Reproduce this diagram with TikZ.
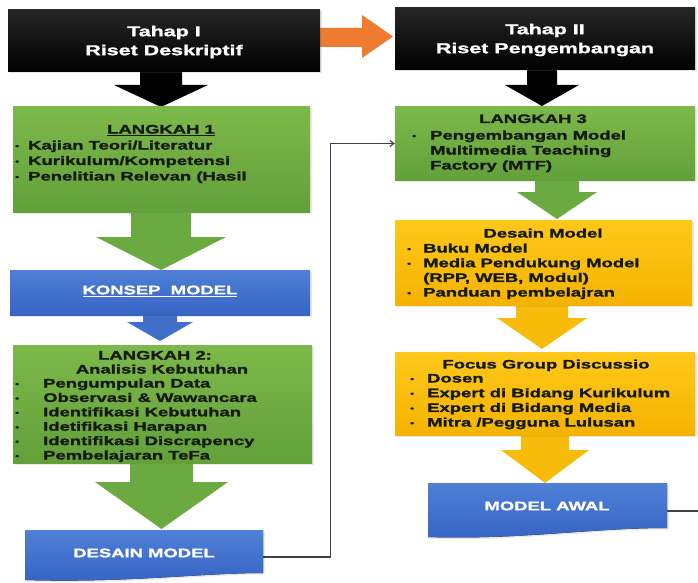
\documentclass[tikz,border=0pt]{standalone}
\usepackage{fontspec}
\setmainfont{Liberation Sans}
\newfontfamily\hv[FakeStretch=1.5,FakeBold=1.6]{Liberation Sans}
\usetikzlibrary{arrows.meta,shadows}
\definecolor{gtop}{HTML}{7DB84A}
\definecolor{gbot}{HTML}{63A03A}
\definecolor{ytop}{HTML}{FFC81A}
\definecolor{ybot}{HTML}{F5B300}
\definecolor{btop}{HTML}{4F80D6}
\definecolor{bbot}{HTML}{3564C4}
\definecolor{orng}{HTML}{EE7B30}
\definecolor{garr}{HTML}{6BAA40}
\definecolor{yarr}{HTML}{F7BC0A}
\definecolor{barr}{HTML}{3F6FCB}
\definecolor{linec}{HTML}{404040}
\definecolor{txt}{HTML}{141A0E}
\newcommand\bul{\raisebox{0.15ex}{\scalebox{0.6}{\textbullet}}}
\newcommand\lst[2]{{\fontsize{12.3}{#1}\selectfont\begin{tabular}[t]{@{}l@{}}#2\end{tabular}}}
\newcommand\dnarrow[7]{\fill[#7] ({#1-#3},#2) -- ({#1+#3},#2) -- ({#1+#3},#5) -- ({#1+#4},#5) -- (#1,#6) -- ({#1-#4},#5) -- ({#1-#3},#5) -- cycle;}
\tikzset{
  shd/.style={drop shadow={opacity=0.18,shadow xshift=1.5pt,shadow yshift=-1.5pt}},
  boxbase/.style={rectangle,inner sep=0pt,shd},
  blackbox/.style={boxbase,top color=black!85,bottom color=black},
  greenbox/.style={boxbase,top color=gtop,bottom color=gbot},
  yellowbox/.style={boxbase,top color=ytop,bottom color=ybot},
  bluebox/.style={boxbase,top color=btop,bottom color=bbot},
  ttl/.style={font=\hv\bfseries\fontsize{14.3}{19}\selectfont,text=white,align=center,inner sep=0pt},
  hd/.style={font=\hv\bfseries\fontsize{12.3}{15}\selectfont,text=txt,inner sep=0pt,anchor=base},
  wt/.style={font=\hv\bfseries\fontsize{12.3}{15}\selectfont,text=white,inner sep=0pt},
  lt/.style={font=\hv\bfseries,text=txt,inner sep=0pt,anchor=base west},
  conn/.style={draw=linec,line width=1.1pt},
}
\begin{document}
\begin{tikzpicture}[x=1pt,y=-1pt]
\useasboundingbox (0,0) rectangle (698,583);
\fill[white] (0,0) rectangle (698,583);

% block arrows
\dnarrow{161}{70}{21}{47}{85}{107}{black}
\dnarrow{542}{68}{15}{37}{85}{106}{black}
\dnarrow{161}{210}{30}{65}{237}{270}{garr}
\dnarrow{160}{313}{17}{33}{322}{341}{barr}
\dnarrow{161.5}{461}{31.5}{66.5}{482}{529}{garr}
\dnarrow{557}{178}{22}{40}{192}{219}{garr}
\dnarrow{542}{303}{26}{45}{318}{349}{yarr}
\dnarrow{545}{433}{24}{44}{450}{483}{yarr}
\fill[orng] (310,28) -- (362,28) -- (362,15) -- (393,36.5) -- (362,58) -- (362,47) -- (310,47) -- cycle;

% boxes
\node[blackbox,minimum width=312pt,minimum height=62pt] (t1) at (164,41) {};
\node[blackbox,minimum width=300pt,minimum height=62pt] (t2) at (545,39) {};
\node[greenbox,minimum width=297pt,minimum height=105pt] (l1) at (161.5,159.5) {};
\node[bluebox,minimum width=300pt,minimum height=45pt] (km) at (160,292.5) {};
\node[greenbox,minimum width=299pt,minimum height=118pt] (l2) at (162.5,404) {};
\node[greenbox,minimum width=300pt,minimum height=73pt] (l3) at (545,143.5) {};
\node[yellowbox,minimum width=297pt,minimum height=85pt] (ds) at (543.5,262.5) {};
\node[yellowbox,minimum width=300pt,minimum height=83pt] (fg) at (545,393.5) {};
\fill[top color=btop,bottom color=bbot,shd] (25,530) -- (263,530) -- (263,573) .. controls (200,573) and (130,583) .. (25,580) -- cycle;
\fill[top color=btop,bottom color=bbot,shd] (428,483) -- (667,483) -- (667,528) .. controls (590,528) and (520,540) .. (428,537) -- cycle;
\node[inner sep=0pt,minimum width=238pt,minimum height=46pt] (dm) at (144,553) {};
\node[inner sep=0pt,minimum width=239pt,minimum height=48pt] (ma) at (547.5,507) {};
\coordinate (out) at (698,511);

% titles
\node[ttl] (t1txt) at (164,42) {Tahap I\\Riset Deskriptif};
\node[ttl] (t2txt) at (545,40) {Tahap II\\Riset Pengembangan};

% LANGKAH 1
\node[hd] (l1h) at (161,133.5) {\underline{LANGKAH 1}};
\node[lt] (l1l) at (15,149.5) {\lst{15.5}{\makebox[13pt][l]{\bul}Kajian Teori/Literatur\\
\makebox[13pt][l]{\bul}Kurikulum/Kompetensi\\
\makebox[13pt][l]{\bul}Penelitian Relevan (Hasil}};

% KONSEP MODEL
\node[wt] (kmt) at (160,291) {\underline{KONSEP\ \ MODEL}};

% LANGKAH 2
\node[hd] (l2h) at (155,359.5) {LANGKAH 2:};
\node[hd] (l2h2) at (162,373.5) {Analisis Kebutuhan};
\node[lt] (l2l) at (15,387.5) {\lst{14.4}{\makebox[28pt][l]{\bul}Pengumpulan Data\\
\makebox[28pt][l]{\bul}Observasi \& Wawancara\\
\makebox[28pt][l]{\bul}Identifikasi Kebutuhan\\
\makebox[28pt][l]{\bul}Idetifikasi Harapan\\
\makebox[28pt][l]{\bul}Identifikasi Discrapency\\
\makebox[28pt][l]{\bul}Pembelajaran TeFa}};

% DESAIN MODEL
\node[wt] (dmt) at (144,553) {DESAIN MODEL};

% LANGKAH 3
\node[hd] (l3h) at (533,123) {LANGKAH 3};
\node[lt] (l3l) at (412,139.5) {\lst{15}{\makebox[18pt][l]{\bul}Pengembangan Model\\
\hspace*{18pt}Multimedia Teaching\\
\hspace*{18pt}Factory (MTF)}};

% Desain Model (yellow)
\node[hd] (dsh) at (543,237.5) {Desain Model};
\node[lt] (dsl) at (407,252.5) {\lst{14.7}{\makebox[16pt][l]{\bul}Buku Model\\
\makebox[16pt][l]{\bul}Media Pendukung Model\\
\hspace*{16pt}(RPP, WEB, Modul)\\
\makebox[16pt][l]{\bul}Panduan pembelajran}};

% Focus Group
\node[hd] (fgh) at (546,368.5) {Focus Group Discussio};
\node[lt] (fgl) at (410,382.5) {\lst{14.7}{\makebox[17pt][l]{\bul}Dosen\\
\makebox[17pt][l]{\bul}Expert di Bidang Kurikulum\\
\makebox[17pt][l]{\bul}Expert di Bidang Media\\
\makebox[17pt][l]{\bul}Mitra /Pegguna Lulusan}};

% MODEL AWAL
\node[wt] (mat) at (547,506) {MODEL AWAL};

% connectors
\draw[conn,-{Straight Barb[length=4pt,width=6pt]}] ([yshift=-4pt]dm.east) -- ++(67,0) |- (l3.west);
\draw[conn] ([yshift=-4pt]ma.east) -- (out);
\end{tikzpicture}
\end{document}
